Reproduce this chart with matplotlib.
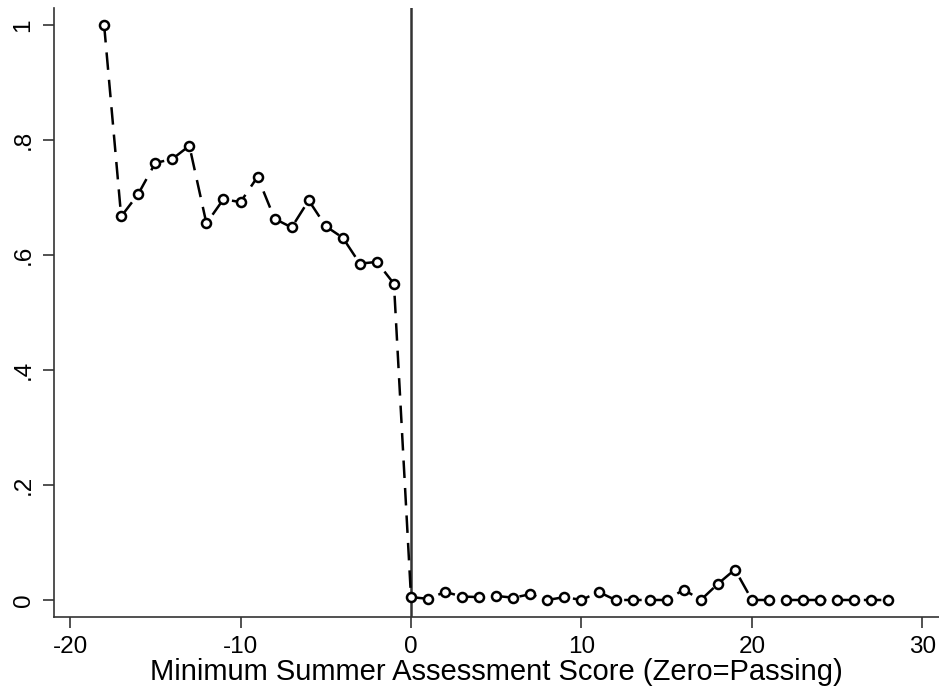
import matplotlib
matplotlib.use("Agg")
import matplotlib.pyplot as plt

scores = list(range(-18, 29))
share = [1.0, 0.667, 0.706, 0.760, 0.767, 0.790, 0.655, 0.697, 0.692, 0.736,
         0.663, 0.648, 0.695, 0.650, 0.630, 0.585, 0.588, 0.550,
         0.005, 0.002, 0.014, 0.006, 0.005, 0.007, 0.004, 0.010, 0.0, 0.005,
         0.0, 0.014, 0.0, 0.0, 0.0, 0.0, 0.018, 0.0, 0.028, 0.053,
         0.0, 0.0, 0.0, 0.0, 0.0, 0.0, 0.0, 0.0, 0.0]
xticks = [-20, -10, 0, 10, 20, 30]
yticks = [0, 0.2, 0.4, 0.6, 0.8, 1.0]
yticklabels = ["0", ".2", ".4", ".6", ".8", "1"]
xlabel = "Minimum Summer Assessment Score (Zero=Passing)"

plt.rcParams['font.family'] = ['Liberation Sans', 'DejaVu Sans']
plt.rcParams['axes.unicode_minus'] = False
fig = plt.figure(figsize=(9.39, 6.92), dpi=100)
ax = fig.add_axes([54/939, 75/692, 885/939, 609/692])

ax.axvline(0, color="#333333", lw=1.8, zorder=1)
ax.plot(scores, share, color="black", lw=1.8, ls=(0, (7, 4)),
        marker="o", ms=6.5, mfc="white", mec="black", mew=1.8, zorder=3)

ax.set_xlim(-20.94, 30.97)
ax.set_ylim(-0.0296, 1.0296)
ax.set_xticks(xticks)
ax.set_xticklabels([str(t) for t in xticks])
ax.set_yticks(yticks)
ax.set_yticklabels(yticklabels, rotation=90, va="center")
ax.tick_params(axis="both", labelsize=17.5, length=8, width=1.2, color="#333333", pad=6)
ax.set_xlabel(xlabel, fontsize=21, labelpad=0)
for s in ["top", "right"]:
    ax.spines[s].set_visible(False)
for s in ["left", "bottom"]:
    ax.spines[s].set_color("#333333")
    ax.spines[s].set_linewidth(1.2)

fig.savefig("out.png", dpi=100)
